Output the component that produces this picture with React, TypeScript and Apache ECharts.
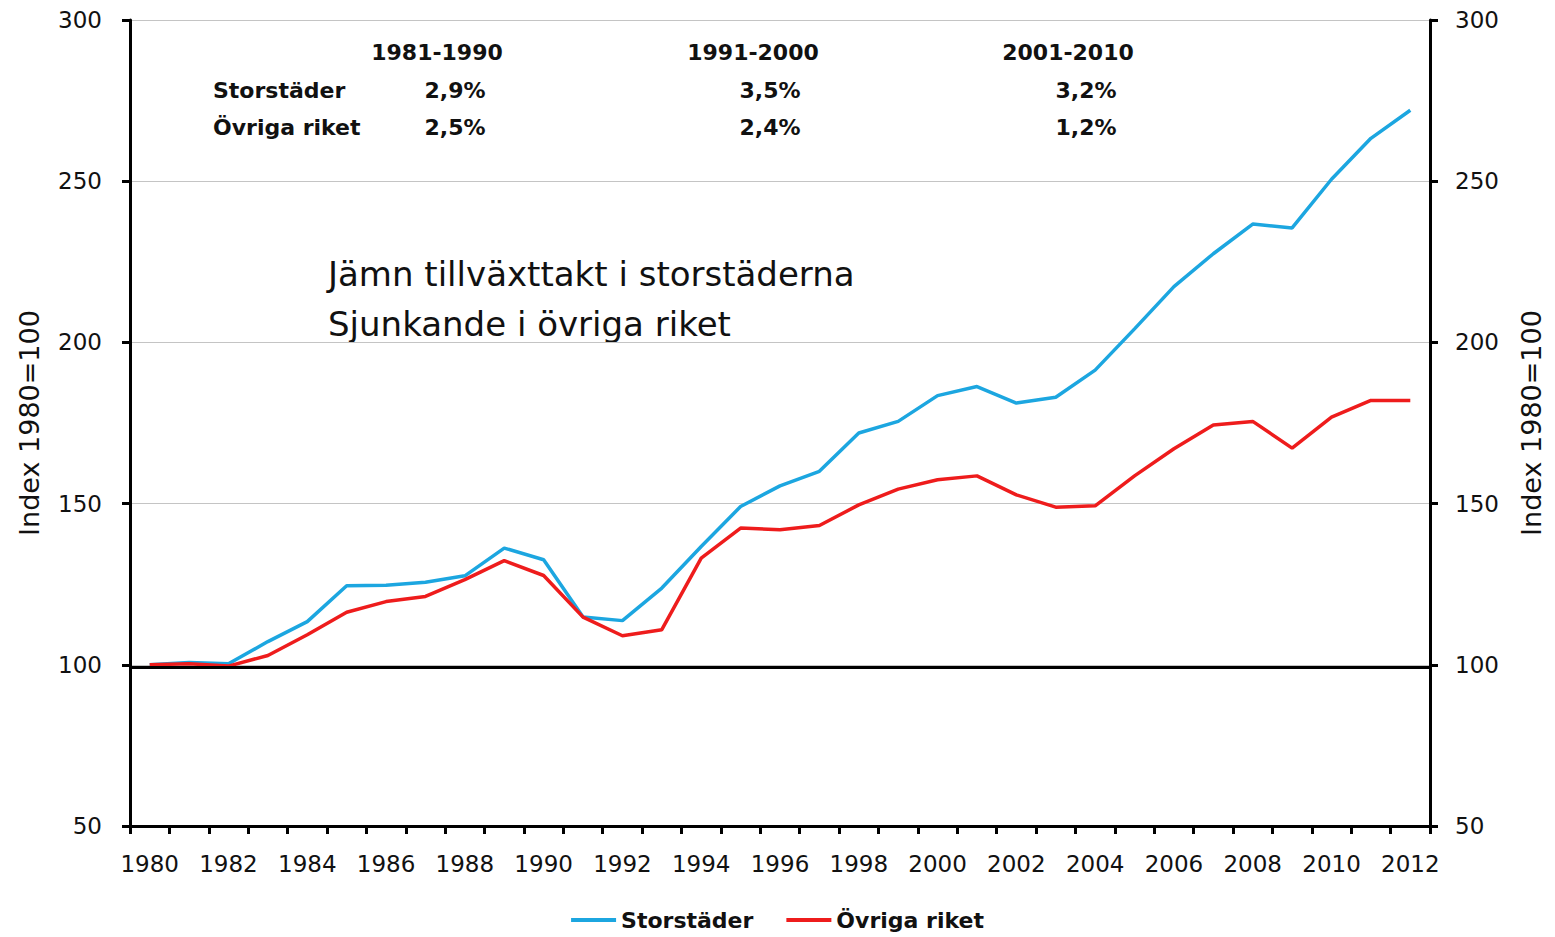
import React, { useEffect, useRef } from "react";
import * as echarts from "echarts";

const years = [
  "1980","1981","1982","1983","1984","1985","1986","1987","1988","1989","1990",
  "1991","1992","1993","1994","1995","1996","1997","1998","1999","2000",
  "2001","2002","2003","2004","2005","2006","2007","2008","2009","2010","2011","2012",
];

const storstader = [
  100, 100.7, 100.3, 107.2, 113.4, 124.5, 124.7, 125.6, 127.6, 136.2, 132.6,
  114.8, 113.7, 123.8, 136.7, 149.1, 155.5, 160, 171.9, 175.5, 183.5,
  186.3, 181.2, 183, 191.4, 204.2, 217.3, 227.5, 236.7, 235.5, 250.6, 263.3, 272,
];

const ovrigaRiket = [
  100, 100.3, 99.6, 102.9, 109.3, 116.3, 119.6, 121.2, 126.4, 132.3, 127.7,
  114.8, 109, 110.9, 133.1, 142.4, 141.9, 143.2, 149.6, 154.5, 157.4,
  158.6, 152.7, 148.9, 149.3, 158.6, 167, 174.4, 175.5, 167.2, 176.8, 182, 182,
];

const seriesNames = ["Storstäder", "Övriga riket"];
const periods = ["1981-1990", "1991-2000", "2001-2010"];
const growthRows = [
  ["2,9%", "3,5%", "3,2%"],
  ["2,5%", "2,4%", "1,2%"],
];
const annotationLines = ["Jämn tillväxttakt i storstäderna", "Sjunkande i övriga riket"];
const yAxisName = "Index 1980=100";
const baseLineValue = 99.2;

const BLUE = "#1ca6e0";
const RED = "#ee1c1c";
const FONT = "'DejaVu Sans', Verdana, sans-serif";

export default function App() {
  const ref = useRef<HTMLDivElement>(null);

  useEffect(() => {
    if (!ref.current) return;
    const chart = echarts.init(ref.current, undefined, { renderer: "svg" });

    const headerX = [437, 753, 1068];
    const valueX = [455, 770, 1086];
    const rowY = [90, 127];

    const graphics: any[] = [];
    periods.forEach((p, i) => {
      graphics.push({
        type: "text",
        x: headerX[i],
        y: 52,
        style: { text: p, font: `bold 22px ${FONT}`, fill: "#111", align: "center", verticalAlign: "middle" },
      });
    });
    seriesNames.forEach((name, r) => {
      graphics.push({
        type: "text",
        x: 213,
        y: rowY[r],
        style: { text: name, font: `bold 22px ${FONT}`, fill: "#111", align: "left", verticalAlign: "middle" },
      });
      growthRows[r].forEach((v, c) => {
        graphics.push({
          type: "text",
          x: valueX[c],
          y: rowY[r],
          style: { text: v, font: `bold 22px ${FONT}`, fill: "#111", align: "center", verticalAlign: "middle" },
        });
      });
    });
    annotationLines.forEach((t, i) => {
      graphics.push({
        type: "text",
        x: 328,
        y: 274 + i * 50,
        style: { text: t, font: `34px ${FONT}`, fill: "#111", align: "left", verticalAlign: "middle" },
      });
    });

    const axisLabelStyle = { color: "#111", fontFamily: FONT, fontSize: 23 };
    const yAxisCommon = {
      type: "value",
      min: 50,
      max: 300,
      interval: 50,
      name: yAxisName,
      nameLocation: "middle",
      nameRotate: 90,
      nameTextStyle: { color: "#111", fontFamily: FONT, fontSize: 27 },
      axisLine: { show: true, lineStyle: { color: "#000", width: 3 } },
      axisTick: { show: true, inside: false, length: 8, lineStyle: { color: "#000", width: 3 } },
    };

    chart.setOption({
      animation: false,
      backgroundColor: "#fff",
      grid: { left: 130, right: 125, top: 20, bottom: 111, containLabel: false },
      legend: {
        show: true,
        left: "center",
        top: 904,
        icon: "rect",
        itemWidth: 45,
        itemHeight: 4,
        itemGap: 33,
        textStyle: { color: "#111", fontFamily: FONT, fontSize: 22, fontWeight: "bold" },
        data: seriesNames,
      },
      xAxis: {
        type: "category",
        data: years,
        boundaryGap: true,
        axisLine: { show: true, lineStyle: { color: "#000", width: 3 } },
        axisTick: { show: true, interval: 0, alignWithLabel: false, length: 8, lineStyle: { color: "#000", width: 3 } },
        axisLabel: { ...axisLabelStyle, interval: 1, margin: 26 },
        splitLine: { show: false },
      },
      yAxis: [
        {
          ...yAxisCommon,
          position: "left",
          nameGap: 87,
          axisLabel: { ...axisLabelStyle, margin: 28 },
          splitLine: { show: true, lineStyle: { color: "#c4c4c4", width: 1 } },
        },
        {
          ...yAxisCommon,
          position: "right",
          nameGap: 88,
          axisLabel: { ...axisLabelStyle, margin: 25 },
          splitLine: { show: false },
        },
      ],
      graphic: graphics,
      series: [
        {
          name: "__base",
          type: "line",
          data: [],
          silent: true,
          z: 1,
          markLine: {
            silent: true,
            symbol: "none",
            label: { show: false },
            lineStyle: { color: "#000", width: 3, type: "solid" },
            data: [{ yAxis: baseLineValue }],
          },
        },
        {
          name: seriesNames[0],
          type: "line",
          data: storstader,
          symbol: "none",
          smooth: false,
          z: 3,
          itemStyle: { color: BLUE },
          lineStyle: { color: BLUE, width: 3.5 },
        },
        {
          name: seriesNames[1],
          type: "line",
          data: ovrigaRiket,
          symbol: "none",
          smooth: false,
          z: 4,
          itemStyle: { color: RED },
          lineStyle: { color: RED, width: 3.5 },
        },
      ],
    });

    return () => chart.dispose();
  }, []);

  return (
    <div
      ref={ref}
      style={{ position: "fixed", left: 0, top: 0, width: 1555, height: 937, background: "#fff" }}
    />
  );
}
